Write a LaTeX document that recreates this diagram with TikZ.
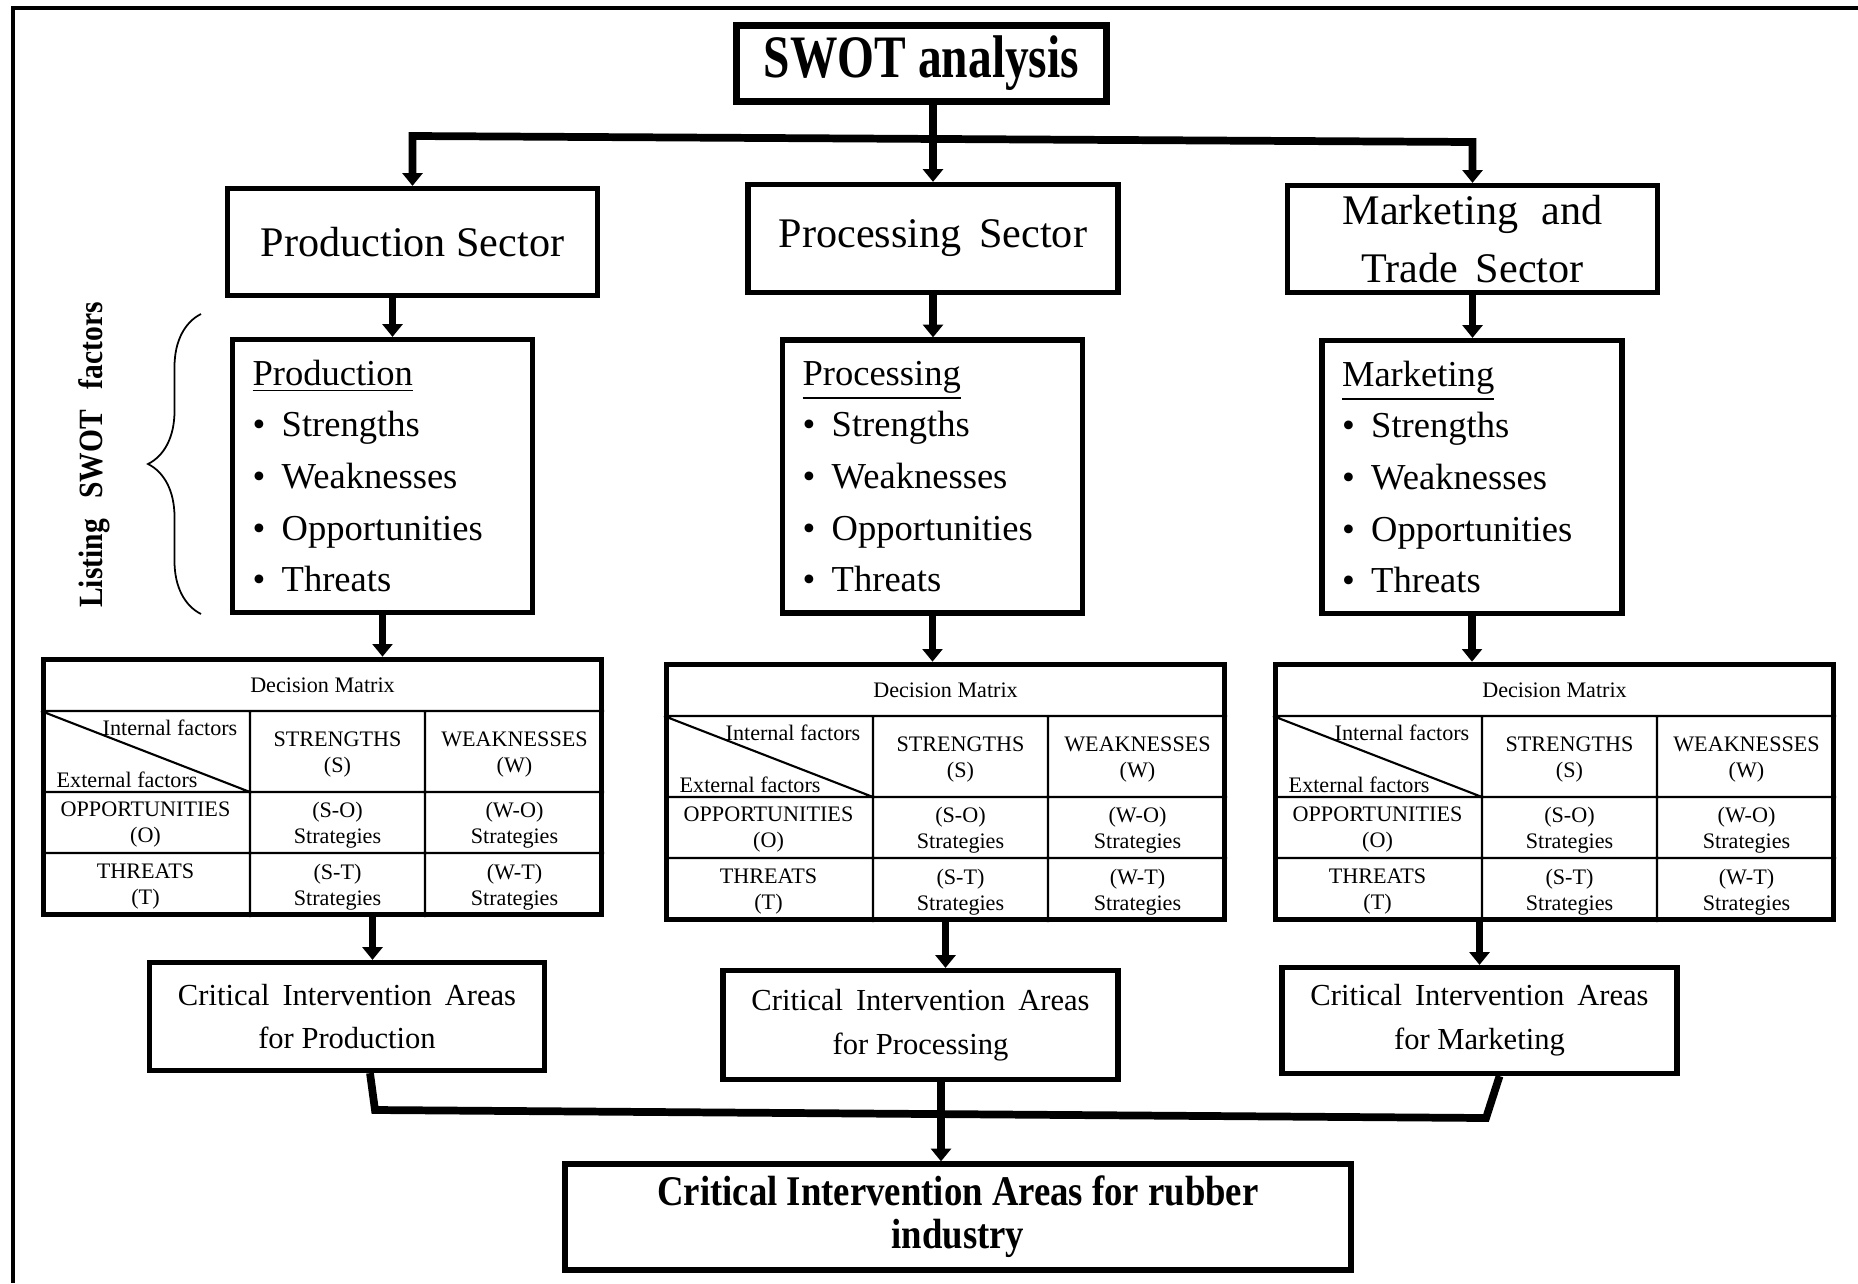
\documentclass[tikz,border=0pt]{standalone}
\usepackage{fontspec}
\setmainfont{Liberation Serif}
\usepackage{graphicx}
\usetikzlibrary{arrows.meta,calc,decorations.pathreplacing}
\newcommand{\fsz}[2]{\fontsize{#1}{#2}\selectfont}
\newcommand{\gap}[1]{\hspace{#1em}}
\newcommand{\swotlist}[1]{\underline{#1}\\
\textbullet\gap{0.45}Strengths\\
\textbullet\gap{0.45}Weaknesses\\
\textbullet\gap{0.45}Opportunities\\
\textbullet\gap{0.45}Threats}

\begin{document}
\begin{tikzpicture}[x=0.1mm,y=-0.1mm,
  blk/.style={draw,line width=1.5pt,inner sep=0pt,align=center},
  sector/.style={blk,minimum width=37mm,minimum height=10.7mm,font=\fsz{12}{16.6}},
  listbox/.style={blk,text width=26mm,inner xsep=2mm,minimum height=27.3mm,align=left,font=\fsz{10.4}{14.7}},
  ciabox/.style={blk,minimum width=39.5mm,minimum height=10.8mm,font=\fsz{8.7}{12.5}},
  matframe/.style={draw,line width=1.6pt,minimum width=55.8mm,minimum height=25.5mm,inner sep=0pt},
  thinrule/.style={line width=0.6pt},
  mcell/.style={inner sep=0pt,align=center,font=\fsz{6.3}{7.4}},
  conn/.style={line width=2.2pt},
  arr/.style={conn,-{Triangle[width=5.6pt,length=3.6pt]}},
  arrs/.style={conn,{Triangle[width=5.6pt,length=3.6pt]}-{Triangle[width=5.6pt,length=3.6pt]}}]

\useasboundingbox (0,0) rectangle (1858,1283);
\draw[line width=1.4pt] (1858,8) -- (13,8) -- (13,1283);

\node[blk,line width=2pt,minimum width=37mm,minimum height=7.6mm] (swot) at (921.5,63.5)
  {\scalebox{1}[1.27]{\fsz{13.5}{16}\bfseries SWOT analysis}};

\node[sector] (prodsec) at (412.5,242) {Production Sector};
\node[sector,minimum height=10.8mm] (procsec) at (933,238.5) {Processing\gap{0.42}Sector};
\node[sector] (mktsec) at (1472.5,239) {Marketing\gap{0.55}and\\Trade\gap{0.42}Sector};

\node[listbox] (prodlist) at (382.5,476) {\swotlist{Production}};
\node[listbox] (proclist) at (932.5,476.5) {\swotlist{Processing}};
\node[listbox] (mktlist) at (1472,477) {\swotlist{Marketing}};

\draw[decorate,decoration={brace,amplitude=5.3mm},line width=0.5pt] (201,614) -- (201,314);
\node[rotate=90,anchor=base,font=\fsz{8.4}{10}\bfseries] (lbl) at (102,455)
  {\scalebox{1}[1.15]{Listing\gap{0.7}SWOT\gap{0.7}factors}};

% decision matrices
\foreach \nm/\tx/\ty in {prod/41/657,proc/664/662,mkt/1273/662}
{
\begin{scope}[shift={(\tx,\ty)}]
\draw[thinrule] (0,54) -- (563,54) (0,135) -- (563,135) (0,196) -- (563,196)
  (209,54) -- (209,260) (384,54) -- (384,260) (0,54) -- (209,135);
\node[matframe] (\nm mat) at (281.5,130) {};
\node[mcell] (\nm title) at (281.5,28) {Decision Matrix};
\node[mcell,anchor=base east] (\nm int) at (197,78) {Internal factors};
\node[mcell,anchor=base west] (\nm ext) at (15,130) {External factors};
\node[mcell] (\nm s) at (296.5,98) {STRENGTHS\\(S)};
\node[mcell] (\nm w) at (473.5,98) {WEAKNESSES\\(W)};
\node[mcell] (\nm o) at (104.5,168) {OPPORTUNITIES\\(O)};
\node[mcell] (\nm so) at (296.5,168) {(S-O)\\Strategies};
\node[mcell] (\nm wo) at (473.5,168) {(W-O)\\Strategies};
\node[mcell] (\nm t) at (104.5,230) {THREATS\\(T)};
\node[mcell] (\nm st) at (296.5,230) {(S-T)\\Strategies};
\node[mcell] (\nm wt) at (473.5,230) {(W-T)\\Strategies};
\end{scope}
}

\node[ciabox] (prodcia) at (347,1016.5) {Critical\gap{0.42}Intervention\gap{0.42}Areas\\for Production};
\node[ciabox,minimum height=10.9mm] (proccia) at (920.5,1025) {Critical\gap{0.42}Intervention\gap{0.42}Areas\\for Processing};
\node[ciabox,minimum height=10.6mm] (mktcia) at (1479.5,1020.5) {Critical\gap{0.42}Intervention\gap{0.42}Areas\\for Marketing};

\node[blk,minimum width=78.6mm,minimum height=10.6mm] (final) at (958,1217)
  {\scalebox{1}[1.15]{\parbox{75mm}{\centering\fsz{10.45}{10.6}\bfseries Critical Intervention Areas for rubber\\industry}}};

% connectors
\coordinate (barL) at (prodsec.north |- 0,136);
\coordinate (barR) at (mktsec.north |- 0,142);
\draw[arrs] (prodsec.north) -- (barL) -- (barR) -- (mktsec.north);
\draw[arr] (procsec.north |- swot.south) -- (procsec.north);

\draw[arr] ([xshift=-2mm]prodsec.south) -- ([xshift=-2mm]prodsec.south |- prodlist.north);
\draw[arr] (procsec.south) -- (procsec.south |- proclist.north);
\draw[arr] (mktsec.south) -- (mktsec.south |- mktlist.north);

\draw[arr] (prodlist.south) -- (prodlist.south |- prodmat.north);
\draw[arr] (proclist.south) -- (proclist.south |- procmat.north);
\draw[arr] (mktlist.south) -- (mktlist.south |- mktmat.north);

\draw[arr] ([xshift=5mm]prodmat.south) -- ([xshift=5mm]prodmat.south |- prodcia.north);
\draw[arr] (procmat.south) -- (procmat.south |- proccia.north);
\draw[arr] (mktcia.north |- mktmat.south) -- (mktcia.north);

\coordinate (jl) at (375,1110);
\coordinate (jr) at (1486,1118);
\draw[conn] ([xshift=2.3mm]prodcia.south) -- (jl) -- (jr) -- ([xshift=2mm]mktcia.south);
\draw[arr] (proccia.south -| 941,0) -- (final.north -| 941,0);

\end{tikzpicture}
\end{document}
